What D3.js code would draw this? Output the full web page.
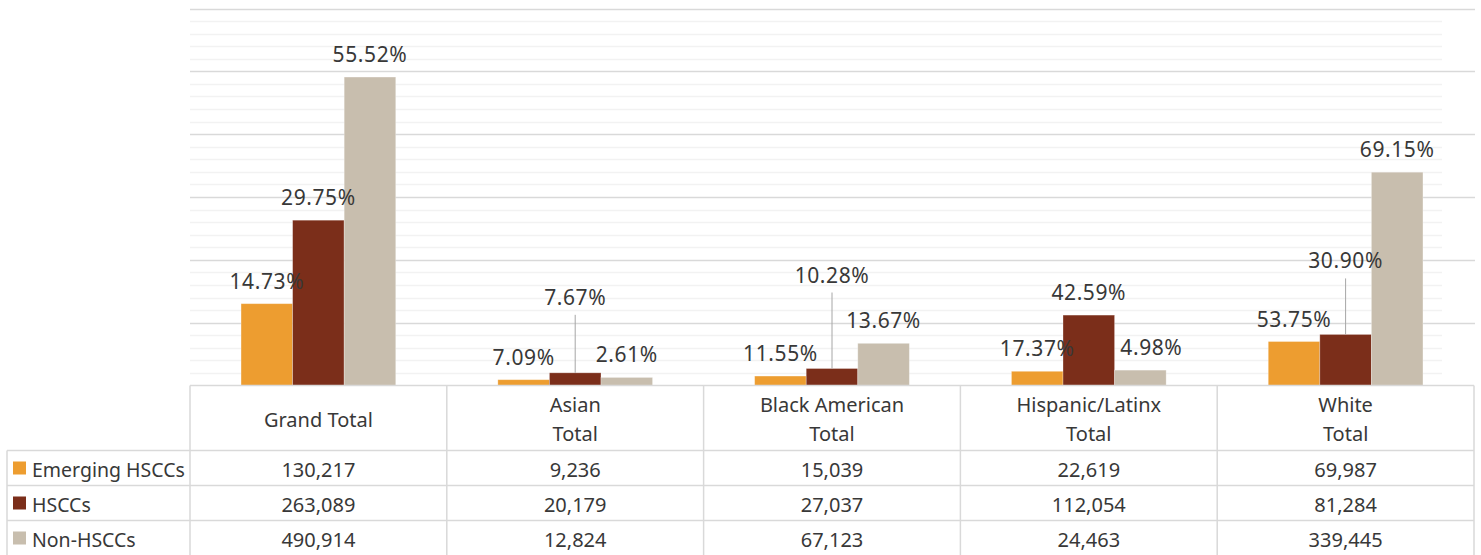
<!DOCTYPE html>
<html>
  <head>
    <title>HSCCs by group</title>
    <script src="https://d3js.org/d3.v7.min.js"></script>
    <style>
      body {
        margin: 0;
        background-color: white;
      }
      text {
        font-family: "Noto Sans", "Open Sans", sans-serif;
        fill: #383838;
      }
    </style>
  </head>
  <body>
    <script>
      // data
      const categories = ['Grand Total', 'Asian Total', 'Black American Total', 'Hispanic/Latinx Total', 'White Total'];
      const categoryLines = [['Grand Total'], ['Asian', 'Total'], ['Black American', 'Total'], ['Hispanic/Latinx', 'Total'], ['White', 'Total']];
      const series = ['Emerging HSCCs', 'HSCCs', 'Non-HSCCs'];
      const emerging = [130217, 9236, 15039, 22619, 69987];
      const hsccs = [263089, 20179, 27037, 112054, 81284];
      const nonHsccs = [490914, 12824, 67123, 24463, 339445];
      const emergingPct = ['14.73%', '7.09%', '11.55%', '17.37%', '53.75%'];
      const hsccsPct = ['29.75%', '7.67%', '10.28%', '42.59%', '30.90%'];
      const nonHsccsPct = ['55.52%', '2.61%', '13.67%', '4.98%', '69.15%'];

      const colors = ['#ED9D30', '#7B2E1A', '#C8BEAE'];

      // labels that were dragged away from their bar in the original
      const labelMoves = [
        { cat: 'Asian Total', s: 'HSCCs', dx: 0, dy: -53, leader: true },
        { cat: 'Black American Total', s: 'HSCCs', dx: 0, dy: -71, leader: true },
        { cat: 'White Total', s: 'HSCCs', dx: 0, dy: -51, leader: true },
        { cat: 'Hispanic/Latinx Total', s: 'Non-HSCCs', dx: 11, dy: 0, leader: false }
      ];

      const w = 1481;
      const h = 555;
      const left = 190;
      const right = 1474;
      const base = 385.5;
      const plotTop = 8.5;
      const headerH = 65;
      const rowH = 35;
      const legendLeft = 7;

      const values = [emerging, hsccs, nonHsccs];
      const pcts = [emergingPct, hsccsPct, nonHsccsPct];

      const rows = [];
      series.forEach((s, si) => {
        categories.forEach((c, ci) => {
          rows.push({ cat: c, s: s, si: si, value: values[si][ci], pct: pcts[si][ci] });
        });
      });

      const svg = d3.select('body')
                    .append('svg')
                    .attr('width', w)
                    .attr('height', h);

      const y = d3.scaleLinear()
                  .domain([0, 600000])
                  .range([base, plotTop]);

      const x = d3.scaleBand()
                  .domain(categories)
                  .range([left, right]);

      const xs = d3.scaleBand()
                   .domain(series)
                   .range([0, x.bandwidth()])
                   .paddingOuter(0.99);

      // gridlines: minor every 20k, major every 100k
      const minor = d3.range(20000, 600001, 20000).filter(v => v % 100000 !== 0);
      svg.selectAll('line.minor')
         .data(minor)
         .enter()
         .append('line')
         .attr('x1', left)
         .attr('x2', 1442)
         .attr('y1', d => Math.round(y(d)) + 0.5)
         .attr('y2', d => Math.round(y(d)) + 0.5)
         .style('stroke', '#f2f2f2')
         .style('stroke-width', 1.5);

      svg.selectAll('line.major')
         .data(y.ticks(6).filter(v => v > 0))
         .enter()
         .append('line')
         .attr('x1', left)
         .attr('x2', right + 1)
         .attr('y1', d => Math.round(y(d)) + 0.5)
         .attr('y2', d => Math.round(y(d)) + 0.5)
         .style('stroke', '#d9d9d9')
         .style('stroke-width', 1.5);

      // bars
      svg.selectAll('rect.bar')
         .data(rows)
         .enter()
         .append('rect')
         .attr('class', 'bar')
         .attr('x', d => x(d.cat) + xs(d.s))
         .attr('y', d => y(d.value))
         .attr('width', xs.bandwidth())
         .attr('height', d => base - y(d.value))
         .style('fill', d => colors[d.si])
         .style('stroke', 'rgba(255,255,255,0.35)')
         .style('stroke-width', 0.8);

      // value labels
      const move = d => labelMoves.find(m => m.cat === d.cat && m.s === d.s) || { dx: 0, dy: 0, leader: false };
      const labelX = d => x(d.cat) + xs(d.s) + xs.bandwidth() / 2 + move(d).dx;
      const labelY = d => y(d.value) - 15 + move(d).dy;

      svg.selectAll('line.leader')
         .data(rows.filter(d => move(d).leader))
         .enter()
         .append('line')
         .attr('x1', d => labelX(d))
         .attr('x2', d => labelX(d))
         .attr('y1', d => labelY(d) + 10)
         .attr('y2', d => y(d.value))
         .style('stroke', '#a6a6a6')
         .style('stroke-width', 1);

      svg.selectAll('text.label')
         .data(rows)
         .enter()
         .append('text')
         .attr('x', labelX)
         .attr('y', labelY)
         .attr('text-anchor', 'middle')
         .style('font-size', '21px')
         .style('letter-spacing', '0.6px')
         .text(d => d.pct);

      // data table
      const grid = svg.append('g')
                      .style('stroke', '#d9d9d9')
                      .style('stroke-width', 1.5);

      const tableBottom = base + headerH + rowH * 3;

      grid.append('line')
          .attr('x1', left).attr('x2', right)
          .attr('y1', base).attr('y2', base);

      d3.range(1, 4).forEach(i => {
        grid.append('line')
            .attr('x1', legendLeft).attr('x2', right)
            .attr('y1', base + headerH + rowH * (i - 1))
            .attr('y2', base + headerH + rowH * (i - 1));
      });

      grid.append('line')
          .attr('x1', legendLeft).attr('x2', legendLeft)
          .attr('y1', base + headerH).attr('y2', tableBottom);

      grid.selectAll('line.col')
          .data(categories.concat(['end']))
          .enter()
          .append('line')
          .attr('x1', (d, i) => i < categories.length ? x(d) : right)
          .attr('x2', (d, i) => i < categories.length ? x(d) : right)
          .attr('y1', base)
          .attr('y2', tableBottom);

      // header cells
      categories.forEach((c, ci) => {
        const lines = categoryLines[ci];
        const cy = base + headerH / 2 + 1;
        const t = svg.append('text')
                     .attr('text-anchor', 'middle')
                     .style('font-size', '20px');
        lines.forEach((ln, li) => {
          t.append('tspan')
           .attr('x', x(c) + x.bandwidth() / 2)
           .attr('y', cy + (li - (lines.length - 1) / 2) * 29)
           .attr('dominant-baseline', 'central')
           .text(ln);
        });
      });

      // legend + value rows
      series.forEach((s, si) => {
        const cy = base + headerH + rowH * si + rowH / 2;
        svg.append('rect')
           .attr('x', 13)
           .attr('y', cy - 6.5)
           .attr('width', 13)
           .attr('height', 13)
           .style('fill', colors[si]);
        svg.append('text')
           .attr('x', 32)
           .attr('y', cy + 1)
           .attr('dominant-baseline', 'central')
           .style('font-size', '19.5px')
           .text(s);
      });

      svg.selectAll('text.cell')
         .data(rows)
         .enter()
         .append('text')
         .attr('x', d => x(d.cat) + x.bandwidth() / 2)
         .attr('y', d => base + headerH + rowH * d.si + rowH / 2 + 1)
         .attr('dominant-baseline', 'central')
         .attr('text-anchor', 'middle')
         .style('font-size', '20px')
         .text(d => d3.format(',')(d.value));
    </script>
  </body>
</html>
